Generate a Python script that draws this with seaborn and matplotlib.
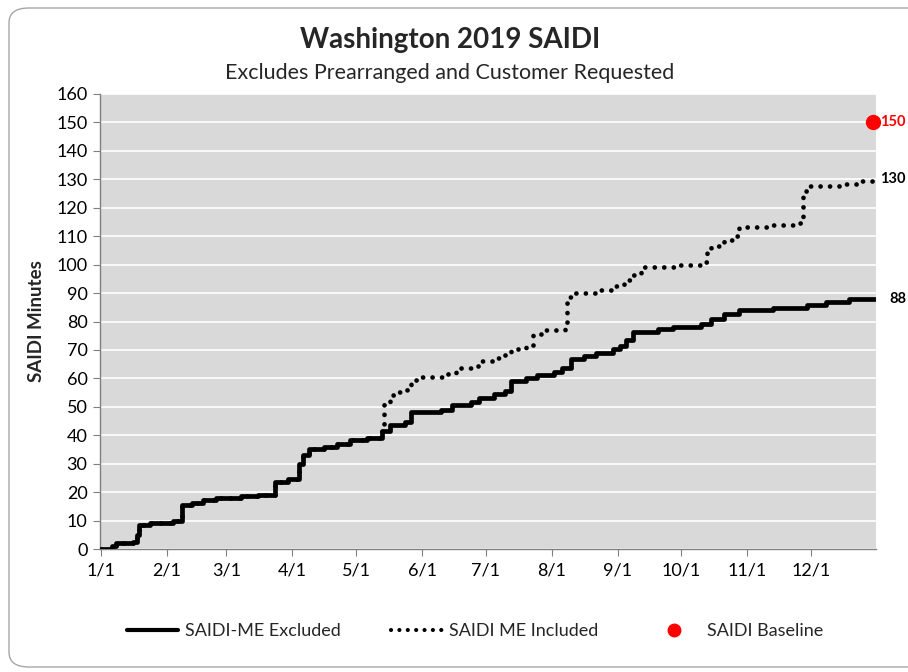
import pandas as pd
import matplotlib.pyplot as plt
import matplotlib.transforms as mtransforms
import seaborn as sns
from matplotlib.lines import Line2D
from matplotlib.patches import FancyBboxPatch

# Cumulative SAIDI minutes (day of year, value)
excluded_days = [0, 5, 7, 15, 17, 18, 23, 34, 38, 43, 48, 54, 66, 74, 82, 88, 93, 95, 98,
                 105, 111, 117, 125, 132, 136, 143, 146, 160, 165, 174, 178, 185, 190, 193,
                 200, 205, 213, 217, 221, 227, 233, 241, 244, 247, 250, 262, 269, 282, 287,
                 293, 300, 316, 332, 341, 352, 364]
excluded_vals = [0, 1, 2, 2.5, 5, 8.3, 9, 10, 15.5, 16.2, 17.2, 18, 18.5, 19, 23.5, 24.5, 30, 33, 35,
                 36, 37, 38.5, 39, 41.5, 43.5, 44.5, 48.3, 49, 50.5, 51.8, 53, 54.5, 55.5, 59.2,
                 60.2, 61.2, 62.3, 63.5, 66.8, 68, 69, 70.2, 71.5, 73.5, 76.4, 77.5, 78, 79, 81,
                 82.5, 84, 84.7, 85.8, 86.8, 87.9, 88]

included_days = [0, 5, 7, 15, 17, 18, 23, 34, 38, 43, 48, 54, 66, 74, 82, 88, 93, 95, 98,
                 105, 111, 117, 125, 132, 133, 136, 140, 144, 146, 150, 163, 167, 174, 178, 186,
                 190, 193, 200, 203, 209, 218, 219, 223, 235, 241, 246, 250, 254, 272, 284, 285,
                 287, 293, 298, 300, 315, 327, 329, 330, 333, 347, 357, 364]
included_vals = [0, 1, 2, 2.5, 5, 8.3, 9, 10, 15.5, 16.2, 17.2, 18, 18.5, 19, 23.5, 24.5, 30, 33, 35,
                 36, 37, 38.5, 39, 44, 51, 54, 55.3, 56.8, 59.5, 60.5, 62, 63.5, 64.5, 66, 67.2,
                 68.4, 70.5, 71.5, 75.5, 77, 78.2, 88.7, 90, 91.2, 92.5, 94.5, 96.3, 99.2, 100, 100.8, 104,
                 106.5, 108.5, 110, 113.2, 113.8, 114.5, 116.5, 126, 127.7, 128.5, 129.5, 130]

baseline_day = 363
baseline_val = 150

month_starts = pd.date_range("2019-01-01", periods=12, freq="MS")
month_ticks = list(month_starts.dayofyear - 1)
month_labels = [f"{m}/1" for m in month_starts.month]

sns.set_style("white")
plt.rcParams["font.family"] = ["Lato", "DejaVu Sans"]

fig = plt.figure(figsize=(9.08, 6.72), dpi=100)
fig.patches.append(FancyBboxPatch((9 / 908, 5 / 672), 1.2, 664 / 672 - 5 / 672,
                                  boxstyle="round,pad=0,rounding_size=0.022",
                                  transform=fig.transFigure, facecolor="white",
                                  edgecolor="#a6a6a6", linewidth=1.0, zorder=-1))

ax = fig.add_axes([100 / 908, 1 - 549 / 672, 776 / 908, 455 / 672])
ax.set_facecolor("#d9d9d9")

df_ex = pd.DataFrame({"day": excluded_days, "val": excluded_vals})
df_in = pd.DataFrame({"day": included_days, "val": included_vals})

sns.lineplot(data=df_in, x="day", y="val", ax=ax, color="black", linewidth=3.4,
             linestyle=(0, (0.01, 2.0)), dash_capstyle="round", drawstyle="steps-post", zorder=3)
sns.lineplot(data=df_ex, x="day", y="val", ax=ax, color="black", linewidth=3.4,
             drawstyle="steps-post", zorder=4)
ax.scatter([baseline_day], [baseline_val], s=100, color="#ff0000", zorder=5, clip_on=False)

ax.set_xlim(-0.5, 364.5)
ax.set_ylim(0, 160)
ax.set_yticks(range(0, 161, 10))
ax.set_xticks(month_ticks)
ax.set_xticklabels(month_labels)
ax.grid(axis="y", color="white", linewidth=1.2)
ax.set_axisbelow(True)
ax.tick_params(axis="both", labelsize=13, colors="black", length=5, color="#808080",
               direction="out", bottom=True, left=True)
ax.tick_params(axis="x", pad=5)
ax.tick_params(axis="y", pad=4)
for side in ["top", "right"]:
    ax.spines[side].set_visible(False)
for side in ["left", "bottom"]:
    ax.spines[side].set_color("#808080")
    ax.spines[side].set_linewidth(1.0)

# end labels, kept inside the figure's right edge
end_trans = mtransforms.blended_transform_factory(fig.transFigure, ax.transData)
for val, color in [(baseline_val, "#ff0000"), (included_vals[-1], "black"), (excluded_vals[-1], "black")]:
    ax.text(906 / 908, val, f"{val:.0f}", color=color, fontsize=10.5, fontweight="bold",
            ha="right", va="center", transform=end_trans, clip_on=False)

ax.set_xlabel("")
ax.set_ylabel("SAIDI Minutes", fontsize=13.5, fontweight="bold", labelpad=8)

fig.text(450 / 908, 1 - 40 / 672, "Washington 2019 SAIDI", fontsize=20, fontweight="bold",
         ha="center", va="center")
fig.text(450 / 908, 1 - 73 / 672, "Excludes Prearranged and Customer Requested", fontsize=15.5,
         ha="center", va="center")

handles = [
    Line2D([], [], color="black", linewidth=3),
    Line2D([], [], color="black", linewidth=3, linestyle=(0, (0.01, 2.0)), dash_capstyle="round"),
    Line2D([], [], color="#ff0000", marker="o", linestyle="none", markersize=9),
]
labels = ["SAIDI-ME Excluded", "SAIDI ME Included", "SAIDI Baseline"]
fig.legend(handles, labels, loc="center", bbox_to_anchor=(475 / 908, 1 - 631 / 672), ncol=3,
           frameon=False, fontsize=13, handlelength=2.8, columnspacing=2.8, handletextpad=0.4)

fig.savefig("out.png", dpi=100)
